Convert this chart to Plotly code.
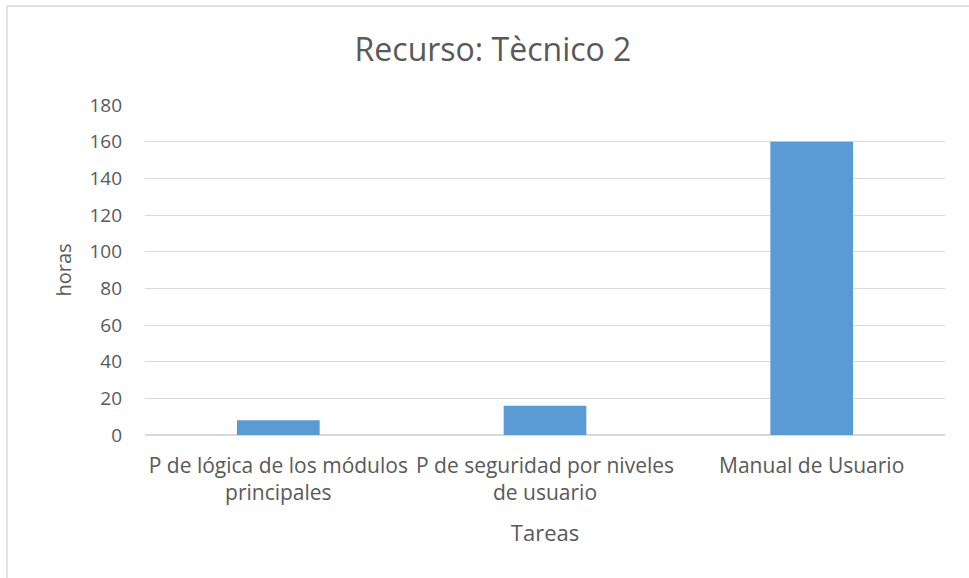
import plotly.graph_objects as go

# Task hours per category
tareas = [
    "P de lógica de los módulos<br>principales",
    "P de seguridad por niveles<br>de usuario",
    "Manual de Usuario",
]
horas = [8, 16, 160]
y_ticks = [0, 20, 40, 60, 80, 100, 120, 140, 160, 180]

W, H = 969, 578
L, R, T, B = 145, 24, 105, 143
pw, ph = W - L - R, H - T - B

text_color = "#595959"
grid_color = "#d9d9d9"
font_family = "Open Sans, Segoe UI, sans-serif"

fig = go.Figure(
    go.Bar(
        x=tareas,
        y=horas,
        marker=dict(color="#5b9bd5", line=dict(width=0)),
        hoverinfo="x+y",
    )
)

# Outer chart frame (top and left edges visible)
fx0 = (7 - L) / pw
fy1 = 1 + (T - 6) / ph
fig.add_shape(type="line", xref="paper", yref="paper",
              x0=fx0, x1=1.2, y0=fy1, y1=fy1,
              line=dict(color="#d9d9d9", width=1.5))
fig.add_shape(type="line", xref="paper", yref="paper",
              x0=fx0, x1=fx0, y0=fy1, y1=-0.6,
              line=dict(color="#d9d9d9", width=1.5))

fig.update_layout(
    width=W,
    height=H,
    margin=dict(l=L, r=R, t=T, b=B, autoexpand=False),
    paper_bgcolor="white",
    plot_bgcolor="white",
    bargap=0.69,
    showlegend=False,
    font=dict(family=font_family, color=text_color, size=19),
    title=dict(
        text="Recurso: Tècnico 2",
        x=493 / W,
        xanchor="center",
        y=1 - 50 / H,
        yanchor="middle",
        xref="container",
        yref="container",
        font=dict(size=32, color=text_color, family=font_family),
    ),
    xaxis=dict(
        showgrid=False,
        showline=False,
        ticks="",
        tickfont=dict(size=21, color=text_color),
        ticklabelstandoff=16,
        title=dict(text="Tareas", font=dict(size=22, color=text_color), standoff=20),
    ),
    yaxis=dict(
        range=[0, 180],
        tickvals=y_ticks,
        showgrid=True,
        gridcolor=grid_color,
        gridwidth=1,
        zeroline=True,
        zerolinecolor=grid_color,
        zerolinewidth=1.5,
        showline=False,
        ticks="",
        tickfont=dict(size=19, color=text_color),
        ticklabelstandoff=22,
        title=dict(text="horas", font=dict(size=20, color=text_color), standoff=12),
    ),
)

fig.write_html("out.html")
